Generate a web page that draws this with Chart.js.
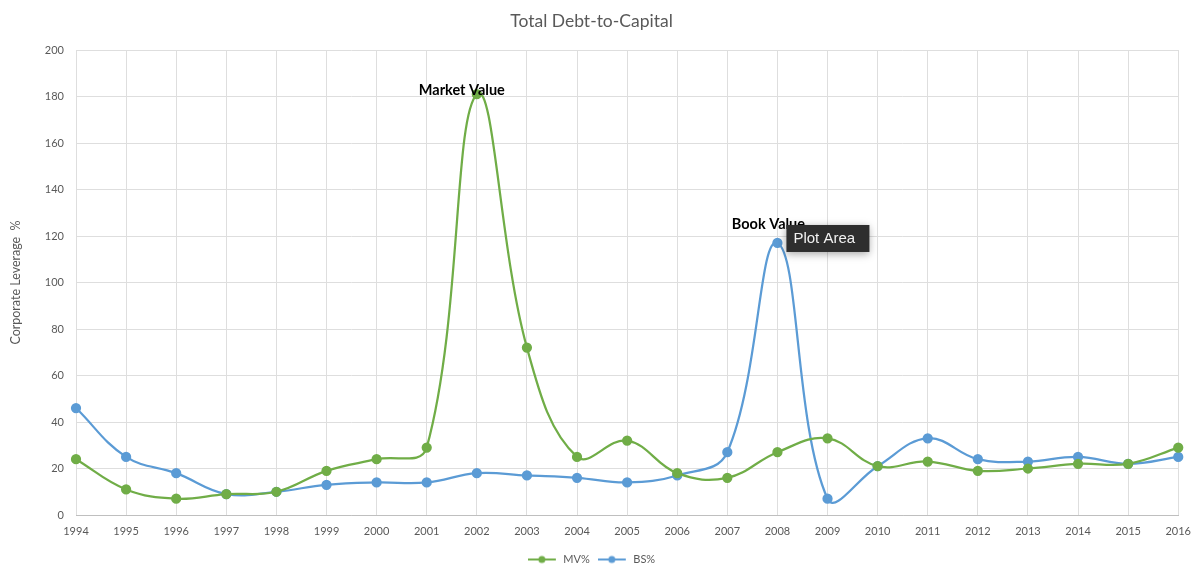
<!DOCTYPE html>
<html>
<head>
<meta charset="utf-8">
<script src="https://cdn.jsdelivr.net/npm/chart.js@4.4.1/dist/chart.umd.min.js"></script>
<style>
  html, body { margin: 0; padding: 0; background: #ffffff; }
  #wrap { width: 1201px; height: 565px; position: relative; }
</style>
</head>
<body>
<div id="wrap"><canvas id="chart" width="1201" height="565"></canvas></div>
<script>
// Years on the category axis
const years = ['1994','1995','1996','1997','1998','1999','2000','2001','2002','2003','2004',
               '2005','2006','2007','2008','2009','2010','2011','2012','2013','2014','2015','2016'];

// Total debt-to-capital, market value basis (%)
const mvPct = [24, 11, 7, 9, 10, 19, 24, 29, 181, 72, 25, 32, 18, 16, 27, 33, 21, 23, 19, 20, 22, 22, 29];

// Total debt-to-capital, book (balance sheet) value basis (%)
const bsPct = [46, 25, 18, 9, 10, 13, 14, 14, 18, 17, 16, 14, 17, 27, 117, 7, 21, 33, 24, 23, 25, 22, 25];

// Value-axis ticks
const yTicks = [0, 20, 40, 60, 80, 100, 120, 140, 160, 180, 200];

const GREEN = '#70AD47';
const BLUE = '#5B9BD5';
const TEXT = '#595959';
const GRID = '#dedede';
const FONT = 'Lato, "Open Sans", sans-serif';

// Legend swatch: short line with a dot in the middle
function swatch(color) {
  const c = document.createElement('canvas');
  c.width = 30; c.height = 10;
  const g = c.getContext('2d');
  g.strokeStyle = color; g.lineWidth = 2;
  g.beginPath(); g.moveTo(0, 5); g.lineTo(28, 5); g.stroke();
  g.fillStyle = color;
  g.beginPath(); g.arc(14, 5, 3.5, 0, Math.PI * 2); g.fill();
  return c;
}

// Callout labels over the peaks plus the hover badge next to the book-value peak
const peakLabels = {
  id: 'peakLabels',
  afterDatasetsDraw(chart) {
    const ctx = chart.ctx;
    const x = chart.scales.x, y = chart.scales.y;

    const mvPeak = mvPct.indexOf(Math.max(...mvPct));
    const bsPeak = bsPct.indexOf(Math.max(...bsPct));

    ctx.save();
    ctx.font = 'bold 14.5px ' + FONT;
    ctx.fillStyle = '#000000';
    ctx.textAlign = 'center';
    ctx.textBaseline = 'alphabetic';
    ctx.fillText('Market Value', x.getPixelForValue(mvPeak) - 15, y.getPixelForValue(mvPct[mvPeak]) + 1);
    ctx.fillText('Book Value', x.getPixelForValue(bsPeak) - 9, y.getPixelForValue(bsPct[bsPeak]) - 14);

    // Badge
    const bx = x.getPixelForValue(bsPeak) + 9;
    const by = y.getPixelForValue(bsPct[bsPeak]) - 18;
    ctx.shadowColor = 'rgba(0,0,0,0.35)';
    ctx.shadowBlur = 8;
    ctx.shadowOffsetY = 2;
    ctx.fillStyle = '#2e2e2e';
    ctx.fillRect(bx, by, 83, 27);
    ctx.shadowColor = 'transparent';
    ctx.fillStyle = '#f2f2f2';
    ctx.font = '15px "Liberation Sans", Arial, sans-serif';
    ctx.textAlign = 'left';
    ctx.textBaseline = 'middle';
    ctx.fillText('Plot Area', bx + 7, by + 14);
    ctx.restore();
  }
};

new Chart(document.getElementById('chart'), {
  type: 'line',
  data: {
    labels: years,
    datasets: [
      {
        label: 'MV%',
        data: mvPct,
        borderColor: GREEN,
        backgroundColor: GREEN,
        pointBackgroundColor: GREEN,
        pointBorderColor: GREEN,
        borderWidth: 2.25,
        pointRadius: 4,
        tension: 0.4,
        fill: false
      },
      {
        label: 'BS%',
        data: bsPct,
        borderColor: BLUE,
        backgroundColor: BLUE,
        pointBackgroundColor: BLUE,
        pointBorderColor: BLUE,
        borderWidth: 2.25,
        pointRadius: 4,
        tension: 0.4,
        fill: false
      }
    ]
  },
  options: {
    responsive: false,
    animation: false,
    devicePixelRatio: 1,
    layout: { padding: { left: 0, right: 18, top: 0, bottom: -10 } },
    plugins: {
      title: {
        display: true,
        text: 'Total Debt-to-Capital',
        color: TEXT,
        font: { family: FONT, size: 17.5, weight: 'normal' },
        padding: { top: 11, bottom: 18 }
      },
      legend: {
        position: 'bottom',
        labels: {
          color: TEXT,
          font: { family: FONT, size: 11 },
          usePointStyle: true,
          pointStyleWidth: 30,
          padding: 8,
          generateLabels(chart) {
            return chart.data.datasets.map((ds, i) => ({
              text: ds.label,
              fillStyle: ds.borderColor,
              strokeStyle: ds.borderColor,
              fontColor: TEXT,
              lineWidth: 0,
              pointStyle: swatch(ds.borderColor),
              hidden: false,
              datasetIndex: i
            }));
          }
        }
      },
      tooltip: { enabled: false }
    },
    scales: {
      x: {
        offset: false,
        grid: { color: GRID, drawTicks: false },
        border: { color: '#bfbfbf' },
        ticks: {
          color: TEXT,
          font: { family: FONT, size: 11 },
          padding: 10,
          maxRotation: 0,
          autoSkip: false
        },
        afterFit(s) { s.height = 31; }
      },
      y: {
        min: 0,
        max: 200,
        afterBuildTicks(s) { s.ticks = yTicks.map(v => ({ value: v })); },
        grid: { color: GRID, drawTicks: false },
        border: { display: false },
        ticks: {
          color: TEXT,
          font: { family: FONT, size: 11 },
          padding: 12
        },
        title: {
          display: true,
          text: 'Corporate Leverage  %',
          color: TEXT,
          font: { family: FONT, size: 12.5 },
          padding: { top: 8, bottom: 0 }
        },
        afterFit(s) { s.width = 76; }
      }
    }
  },
  plugins: [peakLabels]
});
</script>
</body>
</html>
